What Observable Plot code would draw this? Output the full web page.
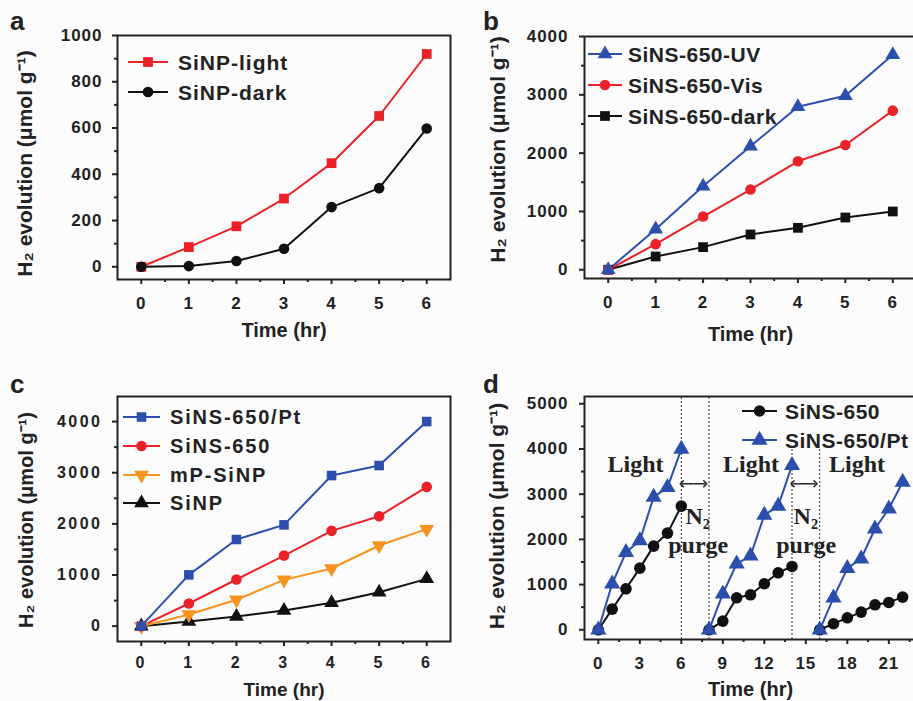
<!DOCTYPE html>
<html>
<head>
<meta charset="utf-8">
<script src="https://cdn.jsdelivr.net/npm/d3@7"></script>
<script src="https://cdn.jsdelivr.net/npm/@observablehq/plot@0.6"></script>
<style>
  html, body { margin: 0; padding: 0; background: #fcfcfd; overflow: hidden; }
  #root { position: relative; width: 913px; height: 701px; overflow: hidden; font-family: 'Liberation Sans', Arial, Helvetica, sans-serif; color: #222; }
  #root svg { position: absolute; overflow: visible; max-width: none; }
  .lbl { position: absolute; white-space: nowrap; font-weight: bold; line-height: 1; color: #222; }
  .pa [aria-label$="tick label"], .pb [aria-label$="tick label"], .pd [aria-label$="tick label"] { letter-spacing: 1px; }
  .pc [aria-label$="tick label"] { letter-spacing: 2.5px; }
</style>
</head>
<body>
<div id="root"></div>
<script>
// ---------------- data ----------------
const hours = [0, 1, 2, 3, 4, 5, 6];

// panel a
const seriesA = ["SiNP-light", "SiNP-dark"];
const aLight = [0, 85, 175, 295, 448, 652, 920];
const aDark  = [0, 3, 25, 78, 258, 340, 598];

// panel b
const seriesB = ["SiNS-650-UV", "SiNS-650-Vis", "SiNS-650-dark"];
const bUV   = [0, 696, 1432, 2117, 2796, 2984, 3686];
const bVis  = [0, 439, 913, 1375, 1860, 2140, 2728];
const bDark = [0, 228, 388, 605, 719, 896, 999];

// panel c
const seriesC = ["SiNS-650/Pt", "SiNS-650", "mP-SiNP", "SiNP"];
const cPt   = [0, 1003, 1694, 1980, 2945, 3140, 4000];
const cSiNS = [0, 443, 912, 1381, 1863, 2150, 2723];
const cMP   = [0, 228, 515, 905, 1127, 1577, 1896];
const cSiNP = [0, 91, 189, 306, 456, 664, 925];

// panel d
const seriesD = ["SiNS-650", "SiNS-650/Pt"];
const dTimes = [0, 1, 2, 3, 4, 5, 6, 8, 9, 10, 11, 12, 13, 14, 16, 17, 18, 19, 20, 21, 22];
const dCycle = [1, 1, 1, 1, 1, 1, 1, 2, 2, 2, 2, 2, 2, 2, 3, 3, 3, 3, 3, 3, 3];
const dSiNS = [0, 457, 907, 1364, 1851, 2139, 2736, 0, 192, 708, 774, 1018, 1261, 1401, 0, 133, 265, 391, 553, 605, 723];
const dPt   = [0, 1018, 1711, 1976, 2935, 3149, 3997, 0, 796, 1460, 1637, 2537, 2736, 3636, 0, 708, 1357, 1571, 2235, 2677, 3267];
const purgeLineTimes = [6, 8, 14, 16];
const purgeLineTop = [null, null, 4000, 4000];
const noteText = ["Light", "Light", "Light", "N\u2082", "purge", "N\u2082", "purge"];
const noteTime = [2.69, 11.04, 18.7, 7.18, 7.22, 15.0, 15.03];
const noteValue = [3660, 3660, 3660, 2520, 1860, 2520, 1860];
const arrowStart = [6.04, 14.04];
const arrowEnd = [7.73, 15.7];
const arrowValue = [3230, 3230];

// ticks
const hourTicks = [0, 1, 2, 3, 4, 5, 6];
const hourMinor = [0.5, 1.5, 2.5, 3.5, 4.5, 5.5];
const dHourTicks = [0, 3, 6, 9, 12, 15, 18, 21];
const dHourMinor = [1.5, 4.5, 7.5, 10.5, 13.5, 16.5, 19.5, 22.5];
const aYTicks = [0, 200, 400, 600, 800, 1000];
const aYMinor = [100, 300, 500, 700, 900];
const bYTicks = [0, 1000, 2000, 3000, 4000];
const bYMinor = [500, 1500, 2500, 3500];
const cYTicks = [0, 1000, 2000, 3000, 4000];
const cYMinor = [500, 1500, 2500, 3500];
const dYTicks = [0, 1000, 2000, 3000, 4000, 5000];
const dYMinor = [500, 1500, 2500, 3500, 4500];

const xTitle = "Time (hr)";
const yTitle = "H\u2082 evolution (\u03BCmol g\u207B\u00B9)";
const panelLetters = ["a", "b", "c", "d"];

// ---------------- styles ----------------
const RED = "#ec2127", BLUE = "#2c4fae", ORANGE = "#f7931e", BLACK = "#111";
const sqrt3 = Math.sqrt(3);
const triangleDown = {
  draw(context, size) {
    const y = -Math.sqrt(size / (sqrt3 * 3));
    context.moveTo(0, -y * 2);
    context.lineTo(-sqrt3 * y, y);
    context.lineTo(sqrt3 * y, y);
    context.closePath();
  }
};

const root = document.getElementById("root");

function tidy(names, arrays, xs, extra) {
  const out = [];
  names.forEach((name, k) => arrays[k].forEach((v, i) => out.push({s: name, t: xs[i], v, z: extra ? extra[i] : 0})));
  return out;
}

function seriesMarks(data, items) {
  const marks = [];
  items.forEach(it => {
    const sub = data.filter(d => d.s === it.name);
    marks.push(Plot.line(sub, {x: "t", y: "v", z: "z", stroke: it.color, strokeWidth: 2}));
  });
  items.forEach(it => {
    const sub = data.filter(d => d.s === it.name);
    marks.push(Plot.dot(sub, {x: "t", y: "v", fill: it.color, symbol: it.symbol, r: it.r}));
  });
  return marks;
}

function makePanel(cfg) {
  const plot = Plot.plot({
    width: cfg.width, height: cfg.height,
    marginLeft: cfg.ml, marginRight: cfg.mr, marginTop: cfg.mt, marginBottom: cfg.mb,
    className: cfg.cls,
    x: {domain: cfg.xDomain},
    y: {domain: cfg.yDomain},
    style: {fontFamily: "'Liberation Sans', Arial, Helvetica, sans-serif", fontSize: cfg.tickFont + "px", fontWeight: "bold", color: "#222", background: "transparent", overflow: "visible"},
    marks: [
      Plot.axisX(cfg.xMajor, {tickSize: 5, tickPadding: cfg.xPad, strokeWidth: 2, stroke: "#222", label: null, tickFormat: d => String(d)}),
      Plot.axisX(cfg.xMinor, {tickSize: 3, strokeWidth: 2, stroke: "#222", label: null, tickFormat: () => ""}),
      Plot.axisY(cfg.yMajor, {tickSize: 5, tickPadding: cfg.yPad, strokeWidth: 2, stroke: "#222", label: null, tickFormat: d => String(d)}),
      Plot.axisY(cfg.yMinor, {tickSize: 3, strokeWidth: 2, stroke: "#222", label: null, tickFormat: () => ""}),
      ...cfg.marks,
      Plot.frame({stroke: "#222", strokeWidth: 2}),
      Plot.text([xTitle], {text: d => d, frameAnchor: "bottom", dy: cfg.xLabelDy, fontSize: cfg.labelFont, fontWeight: "bold", fill: "#222"}),
      Plot.text([yTitle], {text: d => d, frameAnchor: "left", textAnchor: "middle", dx: cfg.yLabelDx, dy: cfg.yLabelDy, rotate: -90, fontSize: cfg.labelFont + 1, fontWeight: "bold", fill: "#222"})
    ]
  });
  plot.style.left = cfg.left + "px";
  plot.style.top = cfg.top + "px";
  root.appendChild(plot);
}

function addLegend(items, rowsY, lx1, lx2, tx, fs, ls) {
  items.forEach((it, i) => {
    const y = rowsY[i];
    const w = lx2 - lx1;
    const svg = d3.create("svg")
      .attr("width", w + 20).attr("height", 24)
      .style("left", (lx1 - 10) + "px").style("top", (y - 12) + "px");
    svg.append("line").attr("x1", 10).attr("x2", w + 10).attr("y1", 12).attr("y2", 12)
      .attr("stroke", it.color).attr("stroke-width", 2);
    svg.append("path").attr("d", d3.symbol(it.symbol, Math.PI * it.r * it.r)())
      .attr("transform", `translate(${w / 2 + 10},12)`).attr("fill", it.color);
    root.appendChild(svg.node());
    const div = document.createElement("div");
    div.className = "lbl";
    div.textContent = it.name;
    div.style.left = tx + "px";
    div.style.top = (y - 0.4885 * fs) + "px";
    div.style.fontSize = fs + "px";
    div.style.letterSpacing = ls + "px";
    root.appendChild(div);
  });
}

function addLetter(ch, x, baseline) {
  const div = document.createElement("div");
  div.className = "lbl";
  div.textContent = ch;
  div.style.fontSize = "26px";
  div.style.left = x + "px";
  div.style.top = (baseline - 22) + "px";
  root.appendChild(div);
}

// ---------------- panel a ----------------
const itemsA = [
  {name: seriesA[0], color: RED, symbol: d3.symbolSquare, r: 5.5},
  {name: seriesA[1], color: BLACK, symbol: d3.symbolCircle, r: 5.3}
];
const dataA = tidy(seriesA, [aLight, aDark], hours);
makePanel({
  cls: "pa", left: 0, top: 0, width: 460, height: 340, ml: 117, mr: 10, mt: 35, mb: 61,
  xDomain: [-0.5, 6.5], yDomain: [-55, 1000],
  xMajor: hourTicks, xMinor: hourMinor, yMajor: aYTicks, yMinor: aYMinor,
  xPad: 12, yPad: 10, tickFont: 17, labelFont: 20,
  xLabelDy: 57, yLabelDx: -92, yLabelDy: 6,
  marks: seriesMarks(dataA, itemsA)
});
addLegend(itemsA, [62, 92], 128, 168, 178, 21, 1);

// ---------------- panel b ----------------
const itemsB = [
  {name: seriesB[0], color: BLUE, symbol: d3.symbolTriangle, r: 5.5},
  {name: seriesB[1], color: RED, symbol: d3.symbolCircle, r: 5.3},
  {name: seriesB[2], color: BLACK, symbol: d3.symbolSquare, r: 5.5}
];
const dataB = tidy(seriesB, [bUV, bVis, bDark], hours);
makePanel({
  cls: "pb", left: 455, top: 0, width: 462, height: 340, ml: 129, mr: 1, mt: 36, mb: 62,
  xDomain: [-0.5, 6.5], yDomain: [-150, 4000],
  xMajor: hourTicks, xMinor: hourMinor, yMajor: bYTicks, yMinor: bYMinor,
  xPad: 12, yPad: 11, tickFont: 17, labelFont: 20,
  xLabelDy: 62, yLabelDx: -86, yLabelDy: -8,
  marks: seriesMarks(dataB, [itemsB[2], itemsB[1], itemsB[0]])
});
addLegend(itemsB, [54, 85, 116], 588, 622, 628, 21, 0.5);

// ---------------- panel c ----------------
const itemsC = [
  {name: seriesC[0], color: BLUE, symbol: d3.symbolSquare, r: 5.4},
  {name: seriesC[1], color: RED, symbol: d3.symbolCircle, r: 5.3},
  {name: seriesC[2], color: ORANGE, symbol: triangleDown, r: 5.5},
  {name: seriesC[3], color: BLACK, symbol: d3.symbolTriangle, r: 5.5}
];
const dataC = tidy(seriesC, [cPt, cSiNS, cMP, cSiNP], hours);
makePanel({
  cls: "pc", left: 0, top: 340, width: 460, height: 361, ml: 117, mr: 10, mt: 56, mb: 60,
  xDomain: [-0.5, 6.5], yDomain: [-300, 4490],
  xMajor: hourTicks, xMinor: hourMinor, yMajor: cYTicks, yMinor: cYMinor,
  xPad: 10, yPad: 10, tickFont: 16, labelFont: 19,
  xLabelDy: 54, yLabelDx: -91, yLabelDy: 1,
  marks: seriesMarks(dataC, [itemsC[3], itemsC[2], itemsC[1], itemsC[0]])
});
addLegend(itemsC, [417, 446, 475, 503], 123, 160, 170, 20, 1.8);

// ---------------- panel d ----------------
const itemsD = [
  {name: seriesD[0], color: BLACK, symbol: d3.symbolCircle, r: 5.8},
  {name: seriesD[1], color: BLUE, symbol: d3.symbolTriangle, r: 6}
];
const dataD = tidy(seriesD, [dSiNS, dPt], dTimes, dCycle);
const purgeRules = purgeLineTimes.map((t, i) => ({t, top: purgeLineTop[i] == null ? 5161 : purgeLineTop[i]}));
const notes = noteText.map((text, i) => ({text, t: noteTime[i], v: noteValue[i]}));
const arrows = arrowStart.map((a, i) => ({a, b: arrowEnd[i], m: (a + arrowEnd[i]) / 2, v: arrowValue[i]}));
makePanel({
  cls: "pd", left: 455, top: 340, width: 462, height: 361, ml: 129, mr: 1, mt: 56, mb: 62,
  xDomain: [-1, 23], yDomain: [-215, 5161],
  xMajor: dHourTicks, xMinor: dHourMinor, yMajor: dYTicks, yMinor: dYMinor,
  xPad: 12, yPad: 11, tickFont: 17, labelFont: 20,
  xLabelDy: 56, yLabelDx: -87, yLabelDy: -2,
  marks: [
    Plot.ruleX(purgeRules, {x: "t", y1: -215, y2: "top", stroke: "#333", strokeWidth: 1, strokeDasharray: "2,2"}),
    ...seriesMarks(dataD, itemsD),
    Plot.link(arrows, {x1: "m", x2: "a", y1: "v", y2: "v", stroke: "#222", strokeWidth: 1.5, markerEnd: "arrow"}),
    Plot.link(arrows, {x1: "m", x2: "b", y1: "v", y2: "v", stroke: "#222", strokeWidth: 1.5, markerEnd: "arrow"}),
    Plot.text(notes, {x: "t", y: "v", text: "text", fontFamily: "'Liberation Serif', 'Times New Roman', serif", fontSize: 24, fontWeight: "bold", fill: "#222"})
  ]
});
addLegend(itemsD, [411, 440], 742, 777, 785, 21, 0.5);

// panel letters
addLetter(panelLetters[0], 10, 30);
addLetter(panelLetters[1], 483, 30);
addLetter(panelLetters[2], 10, 393);
addLetter(panelLetters[3], 483, 393);
</script>
</body>
</html>
